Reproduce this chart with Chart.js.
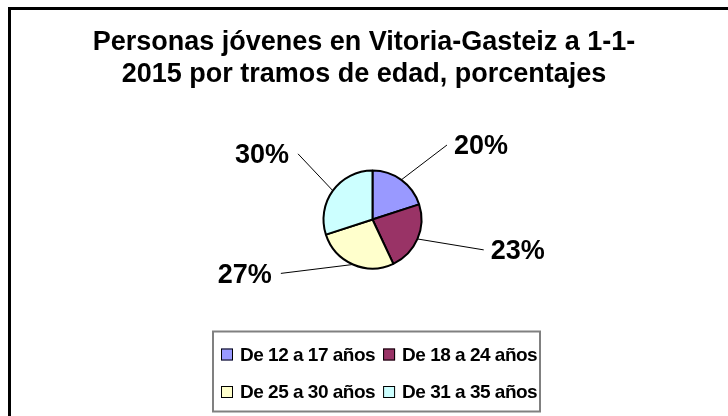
<!DOCTYPE html>
<html>
<head>
<meta charset="utf-8">
<script src="https://cdn.jsdelivr.net/npm/chart.js@4"></script>
<style>
    body { margin: 0; background: #fff; }
    canvas { display: block; }
</style>
</head>
<body>
<canvas id="c" width="728" height="416"></canvas>
<script>
const titleLines = ['Personas jóvenes en Vitoria-Gasteiz a 1-1-', '2015 por tramos de edad, porcentajes']
const labels = ['De 12 a 17 años', 'De 18 a 24 años', 'De 25 a 30 años', 'De 31 a 35 años']
const values = [20, 23, 27, 30]
const colors = ['#9999FF', '#993366', '#FFFFCC', '#CCFFFF']

const FONT = "'Liberation Sans', Arial, sans-serif"

// where each percentage label sits, in pie radii from the centre (Excel's own placement)
const labelAnchors = [[1.52, -1.52], [2.27, 0.62], [-1.87, 1.1], [-1.52, -1.34]]

const decorations = {
    id: 'decorations',
    afterDraw(chart) {
        const ctx = chart.ctx
        ctx.save()

        // outer frame, runs off the right and bottom edges
        ctx.strokeStyle = '#000'
        ctx.lineWidth = 3
        ctx.strokeRect(9.5, 8.5, 800, 500)

        // title
        ctx.fillStyle = '#000'
        ctx.font = 'bold 27px ' + FONT
        ctx.textAlign = 'center'
        ctx.textBaseline = 'middle'
        titleLines.forEach(function(line, i) {
            ctx.fillText(line, 364, 43 + i * 31.5)
        })

        // percentage labels with leader lines
        const meta = chart.getDatasetMeta(0)
        const total = values.reduce(function(a, b) { return a + b }, 0)
        ctx.font = 'bold 27px ' + FONT
        meta.data.forEach(function(arc, i) {
            const p = arc.getProps(['x', 'y', 'startAngle', 'endAngle', 'outerRadius'], true)
            const mid = (p.startAngle + p.endAngle) / 2
            const sx = p.x + Math.cos(mid) * p.outerRadius
            const sy = p.y + Math.sin(mid) * p.outerRadius
            const ex = p.x + labelAnchors[i][0] * p.outerRadius
            const ey = p.y + labelAnchors[i][1] * p.outerRadius
            ctx.strokeStyle = '#000'
            ctx.lineWidth = 1
            ctx.beginPath()
            ctx.moveTo(sx, sy)
            ctx.lineTo(ex, ey)
            ctx.stroke()
            const right = labelAnchors[i][0] > 0
            ctx.textAlign = right ? 'left' : 'right'
            ctx.fillText(Math.round(100 * values[i] / total) + '%', ex + (right ? 7 : -9), ey + 2)
        })

        // legend in its box, two rows of two
        ctx.font = 'bold 19px ' + FONT
        ctx.letterSpacing = '-0.5px'
        ctx.textAlign = 'left'
        const boxLeft = 213, boxTop = 331.5, boxRight = 540, boxBottom = 411.5
        ctx.strokeStyle = '#808080'
        ctx.lineWidth = 2
        ctx.strokeRect(boxLeft, boxTop, boxRight - boxLeft, boxBottom - boxTop)
        const col1 = Math.max(ctx.measureText(labels[0]).width, ctx.measureText(labels[2]).width)
        const colX = [boxLeft + 8, boxLeft + 8 + 12 + 7 + col1 + 8]
        const rowY = [354.5, 392]
        labels.forEach(function(text, i) {
            const x = colX[i % 2]
            const y = rowY[Math.floor(i / 2)]
            ctx.fillStyle = colors[i]
            ctx.fillRect(x, y - 6, 12, 12)
            ctx.strokeStyle = '#000'
            ctx.lineWidth = 1
            ctx.strokeRect(x + 0.5, y - 5.5, 11, 11)
            ctx.fillStyle = '#000'
            ctx.fillText(text, x + 19, y + 1)
        })

        ctx.restore()
    }
}

new Chart(document.getElementById('c'), {
    type: 'pie',
    data: {
        labels: labels,
        datasets: [{
            data: values,
            backgroundColor: colors,
            borderColor: '#000',
            borderWidth: 2,
            radius: 49,
        }],
    },
    options: {
        responsive: false,
        animation: false,
        layout: {
            padding: {left: 17, top: 23, right: 0, bottom: 0},
        },
        plugins: {
            legend: {display: false},
            title: {display: false},
            tooltip: {enabled: false},
        },
    },
    plugins: [decorations],
})
</script>
</body>
</html>
